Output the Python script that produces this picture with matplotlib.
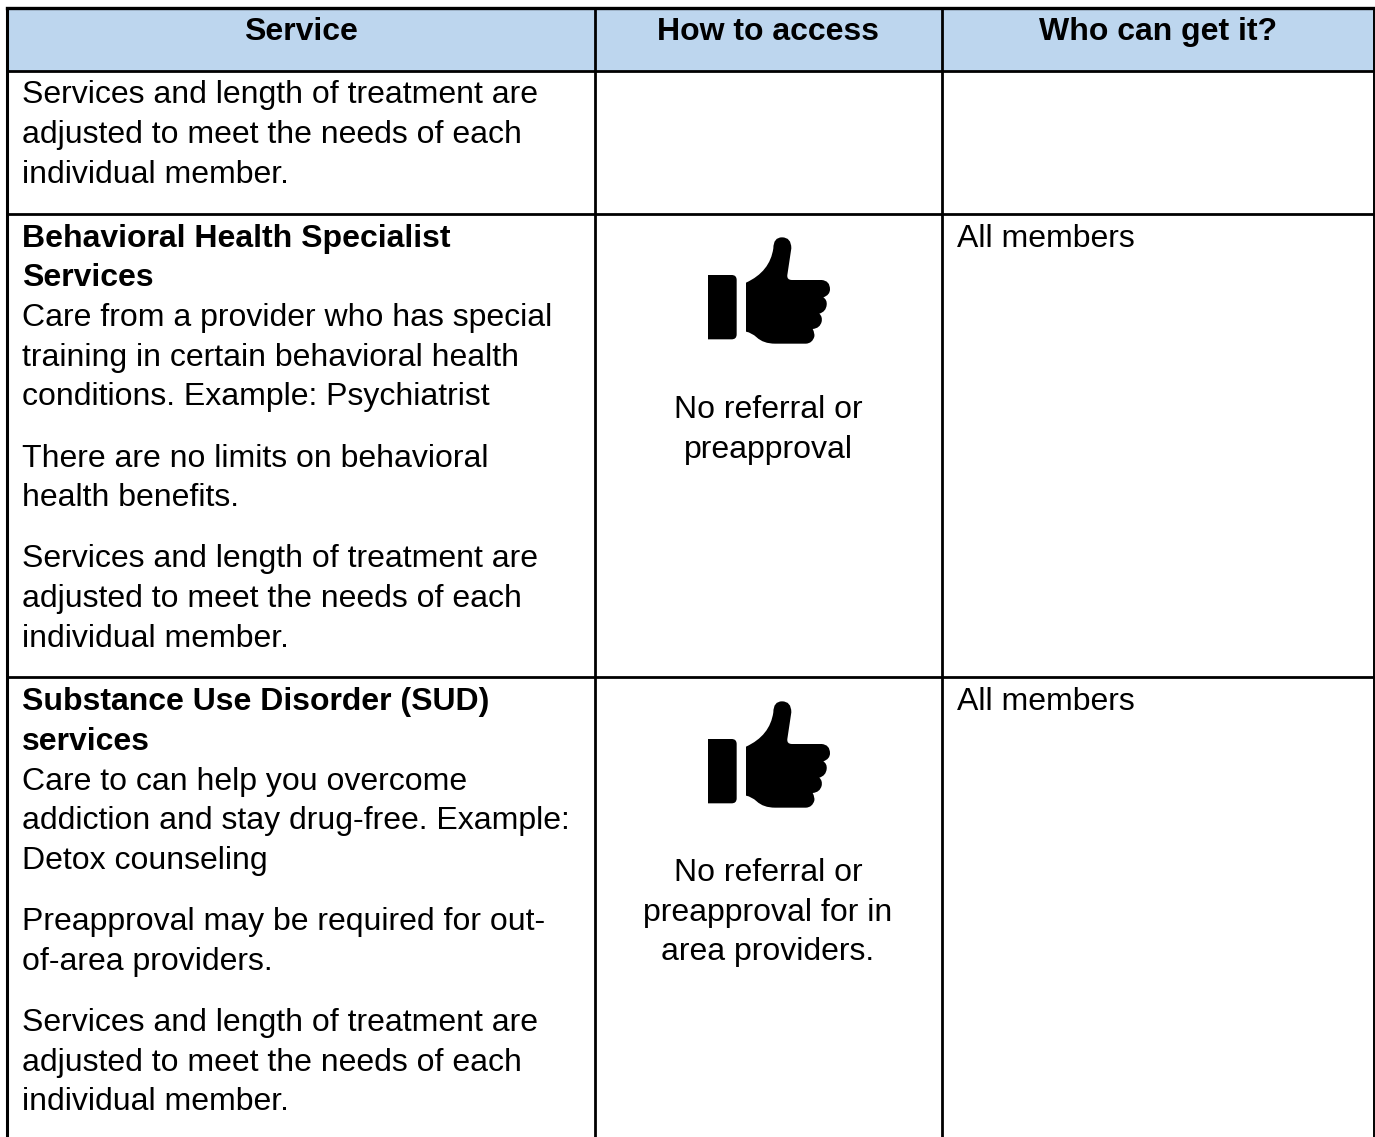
import matplotlib
matplotlib.use('Agg')
import matplotlib.pyplot as plt
from matplotlib.patches import PathPatch, Rectangle
from matplotlib.path import Path

# Table text
headers = ['Service', 'How to access', 'Who can get it?']
service_lines = [
    'Services and length of treatment are',
    'adjusted to meet the needs of each',
    'individual member.',
    'Behavioral Health Specialist',
    'Services',
    'Care from a provider who has special',
    'training in certain behavioral health',
    'conditions. Example: Psychiatrist',
    'There are no limits on behavioral',
    'health benefits.',
    'Services and length of treatment are',
    'adjusted to meet the needs of each',
    'individual member.',
    'Substance Use Disorder (SUD)',
    'services',
    'Care to can help you overcome',
    'addiction and stay drug-free. Example:',
    'Detox counseling',
    'Preapproval may be required for out-',
    'of-area providers.',
    'Services and length of treatment are',
    'adjusted to meet the needs of each',
    'individual member.',
]
bold_lines = ['Behavioral Health Specialist', 'Services',
              'Substance Use Disorder (SUD)', 'services']
access_lines = ['No referral or', 'preapproval', 'No referral or',
                'preapproval for in', 'area providers.']
who_lines = ['All members', 'All members']

# Layout in reference pixels
W, H = 1375, 1137
col_x = [7, 595, 942, 1374]
row_y = [8, 71, 214, 677]
header_base = 40
service_base = [103, 143, 183, 247, 286, 326, 366, 405, 467, 506, 567, 607, 647,
                710, 750, 790, 829, 869, 930, 970, 1031, 1071, 1110]
access_base = [418, 458, 881, 921, 960]
who_base = [247, 710]
thumb_offset = [(680, 220), (680, 684)]

FONT = 'Liberation Sans'
SIZE = 23.0

fig = plt.figure(figsize=(W / 100, H / 100), dpi=100)
ax = fig.add_axes([0, 0, 1, 1])
ax.set_xlim(0, W)
ax.set_ylim(H, 0)
ax.axis('off')

# Header band
ax.add_patch(Rectangle((col_x[0], row_y[0]), col_x[3] - col_x[0], row_y[1] - row_y[0],
                       facecolor='#bdd6ee', edgecolor='none'))

# Grid lines
lw = 2.0
ax.plot([col_x[0], col_x[3]], [row_y[0], row_y[0]], color='black', lw=2.4, solid_capstyle='projecting')
ax.plot([col_x[0], col_x[0]], [row_y[0], H], color='black', lw=2.2, solid_capstyle='butt')
for x in col_x[1:3]:
    ax.plot([x, x], [row_y[0], H], color='black', lw=lw, solid_capstyle='butt')
ax.plot([col_x[3], col_x[3]], [row_y[0], H], color='black', lw=1.4, solid_capstyle='butt')
for y in row_y[1:]:
    ax.plot([col_x[0], col_x[3]], [y, y], color='black', lw=lw, solid_capstyle='butt')

# Header text
for i, label in enumerate(headers):
    xc = (col_x[i] + col_x[i + 1]) / 2
    ax.text(xc, header_base, label, ha='center', va='baseline', fontsize=SIZE,
            fontweight='bold', family=FONT, color='black')

# Service column, first three lines carry over from the previous page
for i, (line, y) in enumerate(zip(service_lines, service_base)):
    weight = 'bold' if line in bold_lines else 'normal'
    ax.text(22, y, line, ha='left', va='baseline', fontsize=SIZE,
            fontweight=weight, family=FONT, color='black')

# How to access column
for line, y in zip(access_lines, access_base):
    ax.text(768, y, line, ha='center', va='baseline', fontsize=SIZE,
            family=FONT, color='black')

# Who can get it column
for line, y in zip(who_lines, who_base):
    ax.text(957, y, line, ha='left', va='baseline', fontsize=SIZE,
            family=FONT, color='black')

# Thumbs up icon, outline taken from the 3x crop
M, L, C, Z = Path.MOVETO, Path.LINETO, Path.CURVE3, Path.CLOSEPOLY
thumb = [
    (M, (84, 165)), (L, (155, 165)), (C, (170, 165)), (C, (170, 180)),
    (L, (170, 343)), (C, (170, 358)), (C, (155, 358)), (L, (84, 358)), (Z, (84, 165)),
    (M, (198, 188)), (C, (270, 155)), (C, (280, 85)),
    (C, (280, 52)), (C, (306, 52)), (C, (334, 52)), (C, (334, 85)),
    (L, (322, 165)), (C, (320, 180)), (C, (336, 180)),
    (L, (425, 180)), (C, (450, 182)), (C, (450, 208)), (C, (450, 225)), (C, (430, 232)),
    (C, (442, 240)), (C, (440, 255)), (C, (438, 275)), (C, (418, 281)),
    (C, (428, 290)), (C, (425, 305)), (C, (420, 325)), (C, (398, 327)),
    (C, (405, 340)), (C, (403, 350)), (C, (397, 370)), (C, (378, 371)),
    (L, (285, 371)), (C, (250, 371)), (C, (230, 352)), (C, (215, 338)), (C, (198, 335)),
    (Z, (198, 188)),
]
for ox, oy in thumb_offset:
    verts = [(ox + p[0] / 3, oy + p[1] / 3) for _, p in thumb]
    codes = [c for c, _ in thumb]
    ax.add_patch(PathPatch(Path(verts, codes), facecolor='black', edgecolor='none'))

fig.savefig('out.png', dpi=100, facecolor='white')
plt.close(fig)
